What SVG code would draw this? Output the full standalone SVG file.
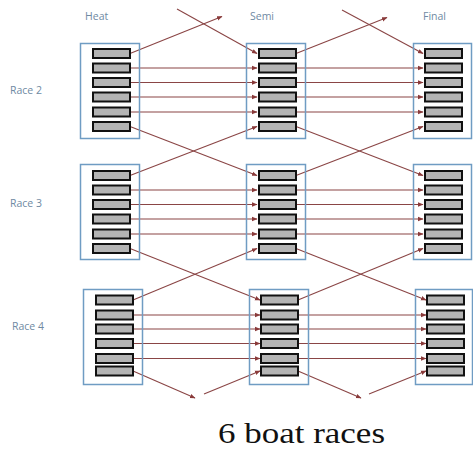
<svg xmlns="http://www.w3.org/2000/svg" width="473" height="454" viewBox="0 0 473 454">
<defs>
<marker id="ah" markerWidth="6" markerHeight="6" refX="5" refY="3" orient="auto" markerUnits="userSpaceOnUse">
<path d="M0,0.8 L5.5,3 L0,5.2 Z" fill="#8a3a3a"/>
</marker>
<style>
.lbl{font-family:"Open Sans","Liberation Sans",sans-serif;font-size:10.5px;fill:#6f8aa3}
.box{fill:none;stroke:#6f9cc3;stroke-width:1.5}
.boat{fill:#b4b4b4;stroke:#111;stroke-width:2}
.c{stroke:#8a4545;stroke-width:1.1;fill:none}
.ca{stroke:#8a4545;stroke-width:1.1;fill:none;marker-end:url(#ah)}
.big{font-family:"Liberation Serif","DejaVu Serif",serif;font-size:30px;fill:#111}
</style>
</defs>
<rect width="473" height="454" fill="#fff"/>
<text class="lbl" x="85" y="20">Heat</text>
<text class="lbl" x="250" y="20">Semi</text>
<text class="lbl" x="423" y="20">Final</text>
<text class="lbl" x="10" y="94">Race 2</text>
<text class="lbl" x="10" y="207">Race 3</text>
<text class="lbl" x="12" y="330">Race 4</text>

<g id="connectors">
<!-- race 2 -->
<line class="ca" x1="130" y1="53.5" x2="222" y2="16.5"/>
<line class="ca" x1="177" y1="9" x2="257" y2="53.5"/>
<line class="ca" x1="130" y1="68" x2="257" y2="68"/>
<line class="ca" x1="130" y1="82.5" x2="257" y2="82.5"/>
<line class="ca" x1="130" y1="97" x2="257" y2="97"/>
<line class="ca" x1="130" y1="112" x2="257" y2="112"/>
<line class="ca" x1="130" y1="126.5" x2="257" y2="175.5"/>
<line class="ca" x1="130" y1="175.5" x2="257" y2="126.5"/>
<line class="ca" x1="296" y1="53.5" x2="387" y2="17.5"/>
<line class="ca" x1="342" y1="10" x2="423" y2="53.5"/>
<line class="ca" x1="296" y1="68" x2="423" y2="68"/>
<line class="ca" x1="296" y1="82.5" x2="423" y2="82.5"/>
<line class="ca" x1="296" y1="97" x2="423" y2="97"/>
<line class="ca" x1="296" y1="112" x2="423" y2="112"/>
<line class="ca" x1="296" y1="126.5" x2="423" y2="175.5"/>
<line class="ca" x1="296" y1="175.5" x2="423" y2="126.5"/>
<!-- race 3 -->
<line class="ca" x1="130" y1="190" x2="257" y2="190"/>
<line class="ca" x1="130" y1="204.5" x2="257" y2="204.5"/>
<line class="ca" x1="130" y1="219" x2="257" y2="219"/>
<line class="ca" x1="130" y1="234" x2="257" y2="234"/>
<line class="ca" x1="130" y1="248.5" x2="260" y2="300"/>
<line class="ca" x1="133" y1="300" x2="257" y2="248.5"/>
<line class="ca" x1="296" y1="190" x2="423" y2="190"/>
<line class="ca" x1="296" y1="204.5" x2="423" y2="204.5"/>
<line class="ca" x1="296" y1="219" x2="423" y2="219"/>
<line class="ca" x1="296" y1="234" x2="423" y2="234"/>
<line class="ca" x1="296" y1="248.5" x2="426" y2="300"/>
<line class="ca" x1="298" y1="300" x2="423" y2="248.5"/>
<!-- race 4 -->
<line class="ca" x1="133" y1="315" x2="260" y2="315"/>
<line class="ca" x1="133" y1="329" x2="260" y2="329"/>
<line class="ca" x1="133" y1="343.5" x2="260" y2="343.5"/>
<line class="ca" x1="133" y1="358.5" x2="260" y2="358.5"/>
<line class="ca" x1="133" y1="371" x2="195" y2="398"/>
<line class="ca" x1="204" y1="394" x2="260" y2="371"/>
<line class="ca" x1="298" y1="315" x2="426" y2="315"/>
<line class="ca" x1="298" y1="329" x2="426" y2="329"/>
<line class="ca" x1="298" y1="343.5" x2="426" y2="343.5"/>
<line class="ca" x1="298" y1="358.5" x2="426" y2="358.5"/>
<line class="ca" x1="298" y1="371" x2="361" y2="398"/>
<line class="ca" x1="369" y1="394" x2="426" y2="371"/>
</g>

<g id="heat2">
<rect class="box" x="80.5" y="43.5" width="59" height="95"/>
<rect class="boat" x="93" y="49" width="37" height="9"/>
<rect class="boat" x="93" y="63.5" width="37" height="9"/>
<rect class="boat" x="93" y="78" width="37" height="9"/>
<rect class="boat" x="93" y="92.5" width="37" height="9"/>
<rect class="boat" x="93" y="107.5" width="37" height="9"/>
<rect class="boat" x="93" y="122" width="37" height="9"/>
</g>
<g id="semi2">
<rect class="box" x="246.5" y="43.5" width="59" height="95"/>
<rect class="boat" x="259" y="49" width="37" height="9"/>
<rect class="boat" x="259" y="63.5" width="37" height="9"/>
<rect class="boat" x="259" y="78" width="37" height="9"/>
<rect class="boat" x="259" y="92.5" width="37" height="9"/>
<rect class="boat" x="259" y="107.5" width="37" height="9"/>
<rect class="boat" x="259" y="122" width="37" height="9"/>
</g>
<g id="final2">
<rect class="box" x="413.5" y="43.5" width="58" height="95"/>
<rect class="boat" x="425" y="49" width="37" height="9"/>
<rect class="boat" x="425" y="63.5" width="37" height="9"/>
<rect class="boat" x="425" y="78" width="37" height="9"/>
<rect class="boat" x="425" y="92.5" width="37" height="9"/>
<rect class="boat" x="425" y="107.5" width="37" height="9"/>
<rect class="boat" x="425" y="122" width="37" height="9"/>
</g>

<g id="heat3">
<rect class="box" x="80.5" y="164.5" width="59" height="95"/>
<rect class="boat" x="93" y="171" width="37" height="9"/>
<rect class="boat" x="93" y="185.5" width="37" height="9"/>
<rect class="boat" x="93" y="200" width="37" height="9"/>
<rect class="boat" x="93" y="214.5" width="37" height="9"/>
<rect class="boat" x="93" y="229.5" width="37" height="9"/>
<rect class="boat" x="93" y="244" width="37" height="9"/>
</g>
<g id="semi3">
<rect class="box" x="246.5" y="164.5" width="59" height="95"/>
<rect class="boat" x="259" y="171" width="37" height="9"/>
<rect class="boat" x="259" y="185.5" width="37" height="9"/>
<rect class="boat" x="259" y="200" width="37" height="9"/>
<rect class="boat" x="259" y="214.5" width="37" height="9"/>
<rect class="boat" x="259" y="229.5" width="37" height="9"/>
<rect class="boat" x="259" y="244" width="37" height="9"/>
</g>
<g id="final3">
<rect class="box" x="413.5" y="164.5" width="58" height="95"/>
<rect class="boat" x="425" y="171" width="37" height="9"/>
<rect class="boat" x="425" y="185.5" width="37" height="9"/>
<rect class="boat" x="425" y="200" width="37" height="9"/>
<rect class="boat" x="425" y="214.5" width="37" height="9"/>
<rect class="boat" x="425" y="229.5" width="37" height="9"/>
<rect class="boat" x="425" y="244" width="37" height="9"/>
</g>

<g id="heat4">
<rect class="box" x="83.5" y="289.5" width="59" height="95"/>
<rect class="boat" x="96" y="295.5" width="37" height="9"/>
<rect class="boat" x="96" y="310.5" width="37" height="9"/>
<rect class="boat" x="96" y="324.5" width="37" height="9"/>
<rect class="boat" x="96" y="339" width="37" height="9"/>
<rect class="boat" x="96" y="354" width="37" height="9"/>
<rect class="boat" x="96" y="366.5" width="37" height="9"/>
</g>
<g id="semi4">
<rect class="box" x="249.5" y="289.5" width="59" height="95"/>
<rect class="boat" x="261" y="295.5" width="37" height="9"/>
<rect class="boat" x="261" y="310.5" width="37" height="9"/>
<rect class="boat" x="261" y="324.5" width="37" height="9"/>
<rect class="boat" x="261" y="339" width="37" height="9"/>
<rect class="boat" x="261" y="354" width="37" height="9"/>
<rect class="boat" x="261" y="366.5" width="37" height="9"/>
</g>
<g id="final4">
<rect class="box" x="415.5" y="289.5" width="57" height="95"/>
<rect class="boat" x="427" y="295.5" width="37" height="9"/>
<rect class="boat" x="427" y="310.5" width="37" height="9"/>
<rect class="boat" x="427" y="324.5" width="37" height="9"/>
<rect class="boat" x="427" y="339" width="37" height="9"/>
<rect class="boat" x="427" y="354" width="37" height="9"/>
<rect class="boat" x="427" y="366.5" width="37" height="9"/>
</g>

<text class="big" x="218" y="443" textLength="167" lengthAdjust="spacingAndGlyphs">6 boat races</text>
</svg>
